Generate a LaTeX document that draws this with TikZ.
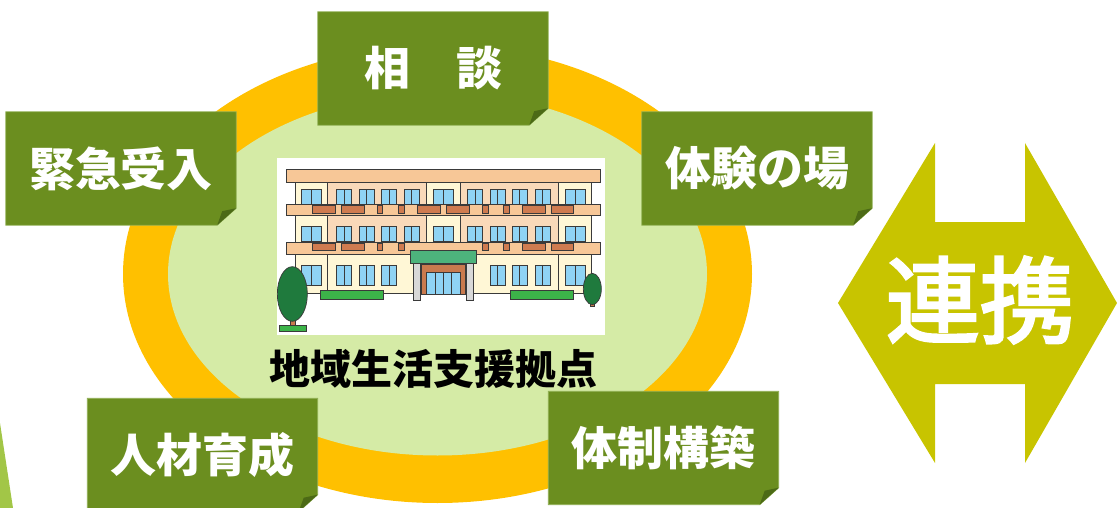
\documentclass[tikz,border=0pt]{standalone}
\usepackage{fontspec}
\newfontfamily\jp{Noto Sans CJK JP}
\newfontfamily\jplink{Noto Sans CJK JP}[FakeBold=3]
\usetikzlibrary{calc}
\definecolor{boxgreen}{HTML}{6B8E1F}
\definecolor{boxedge}{HTML}{8FAE52}
\definecolor{folddark}{HTML}{4C6A16}
\definecolor{ringorange}{HTML}{FFC000}
\definecolor{innergreen}{HTML}{D5EBA6}
\definecolor{arrowolive}{HTML}{C8C400}
\definecolor{sliver}{HTML}{A2C647}
\definecolor{bline}{HTML}{3A3A3A}
\definecolor{cream}{HTML}{FFF7D6}
\definecolor{peach}{HTML}{F7C797}
\definecolor{peachwall}{HTML}{F9D9B9}
\definecolor{balc}{HTML}{CF7B50}
\definecolor{winblue}{HTML}{8FD3F4}
\definecolor{canopy}{HTML}{4DB37C}
\definecolor{pillar}{HTML}{D8D8D8}
\definecolor{doorbrown}{HTML}{C97A4E}
\definecolor{hedge}{HTML}{3CB449}
\definecolor{treegreen}{HTML}{1F7A3D}
\pgfdeclarelayer{back}
\pgfdeclarelayer{boxes}
\pgfsetlayers{back,boxes,main}
\tikzset{
  jbox/.style={rectangle, minimum width=230pt, minimum height=113pt,
    inner sep=0pt, text=white, font=\jp\bfseries\fontsize{46}{50}\selectfont},
  boxfill/.style={fill=boxgreen, draw=boxedge, line width=0.8pt},
  outl/.style={draw=bline, line width=0.7pt},
}
% green card with a cut, folded lower right corner
\newcommand\cardshape[1]{%
  \begin{pgfonlayer}{boxes}
    \path[boxfill] (#1.north west) -- (#1.north east)
      -- ([yshift=17pt]#1.south east) -- ([xshift=-19pt]#1.south east)
      -- (#1.south west) -- cycle;
    \fill[folddark] ([yshift=17pt]#1.south east) -- ([xshift=-19pt]#1.south east)
      -- ([xshift=-14pt,yshift=14pt]#1.south east) -- cycle;
  \end{pgfonlayer}}
% window with a centre mullion, in local units
\newcommand\bwin[4]{%
  \path[outl, fill=winblue] (#1,#2) rectangle (#3,#4);
  \draw[bline, line width=0.7pt] ({(#1+#3)/2},#2) -- ({(#1+#3)/2},#4);}
\begin{document}
\begin{tikzpicture}[x=1pt, y=-1pt]
\useasboundingbox (0,0) rectangle (1117,508);

% rings
\begin{pgfonlayer}{back}
  \fill[ringorange] (437.5,274) ellipse [x radius=314.5, y radius=229];
  \fill[innergreen] (437.5,274) ellipse [x radius=269.5, y radius=181.5];
  \fill[sliver] (0,423) -- (13,508) -- (0,508) -- cycle;
\end{pgfonlayer}

% building picture
\fill[white] (277,158) rectangle (605,335);
\begin{scope}[shift={(270,150)}, x=0.33333pt, y=-0.33333pt]
  % body
  \path[outl, fill=cream] (75,97) rectangle (965,430);
  \fill[peachwall] (172,97) rectangle (470,277);
  \fill[peachwall] (570,97) rectangle (865,277);
  \draw[bline, line width=0.7pt] (172,97) -- (172,430) (865,97) -- (865,430)
    (470,97) -- (470,277) (570,97) -- (570,277);
  \path[outl] (75,97) rectangle (965,430);
  % roof and floor slabs
  \path[outl, fill=peach] (50,57) rectangle (990,97);
  \path[outl, fill=peach] (50,163) rectangle (990,197);
  \path[outl, fill=peach] (50,277) rectangle (990,313);
  % balcony fronts
  \foreach \a/\b in {128/196,215/283,322/338,386/402,443/511,530/597,638/655,700/717,757/825,843/911}
    \path[outl, fill=balc] (\a,165) rectangle (\b,190);
  \foreach \a/\b in {128/196,215/283,322/338,386/402,638/655,700/717,757/825,843/911}
    \path[outl, fill=balc] (\a,279) rectangle (\b,302);
  % windows
  \foreach \a/\b in {95/155,200/245,268/313,335/380,403/448,490/550,593/638,660/705,727/772,795/840,887/947}
    {\bwin{\a}{118}{\b}{162}\bwin{\a}{230}{\b}{275}}
  \foreach \a/\b in {95/155,200/245,268/313,335/380,660/705,727/772,795/840,887/947}
    {\bwin{\a}{345}{\b}{405}}
  % entrance
  \path[outl, fill=doorbrown] (455,343) rectangle (585,432);
  \path[outl, fill=winblue] (470,366) rectangle (570,432);
  \draw[bline, line width=0.7pt] (495,366) -- (495,432) (520,366) -- (520,432) (545,366) -- (545,432);
  \path[outl, fill=pillar] (430,340) rectangle (452,452);
  \path[outl, fill=pillar] (588,340) rectangle (610,452);
  \path[outl, fill=canopy] (420,300) rectangle (620,340);
  % hedges
  \path[outl, fill=hedge] (152,420) rectangle (340,447);
  \path[outl, fill=hedge] (722,420) rectangle (910,447);
  % trees
  \path[outl, fill=doorbrown] (60,490) rectangle (76,528);
  \path[outl, fill=treegreen] (67,432) ellipse [x radius=45, y radius=82];
  \path[outl, fill=hedge] (28,525) rectangle (108,545);
  \path[outl, fill=doorbrown] (962,450) rectangle (972,470);
  \path[outl, fill=treegreen] (967,417) ellipse [x radius=27, y radius=47];
\end{scope}

% centre caption
\node[font=\jp\bfseries\fontsize{41}{46}\selectfont, text=black] (hub) at (433.5,369) {地域生活支援拠点};

% cards round the ring
\node[jbox] (soudan) at (433,68.5) {相　談};
\node[jbox] (kinkyu) at (121,168.5) {緊急受入};
\node[jbox] (taiken) at (757,168.5) {体験の場};
\node[jbox] (jinzai) at (202.5,455) {人材育成};
\node[jbox] (taisei) at (663.5,448) {体制構築};
\cardshape{soudan}
\cardshape{kinkyu}
\cardshape{taiken}
\cardshape{jinzai}
\cardshape{taisei}

% two-way link arrow
\fill[arrowolive] (838,303) -- (935,143) -- (935,222) -- (1025,222) -- (1025,143)
  -- (1117,303) -- (1025,463) -- (1025,384) -- (935,384) -- (935,463) -- cycle;
\node[text=white, font=\jplink\fontsize{94}{100}\selectfont] (renkei) at (980,300) {連携};
\end{tikzpicture}
\end{document}
